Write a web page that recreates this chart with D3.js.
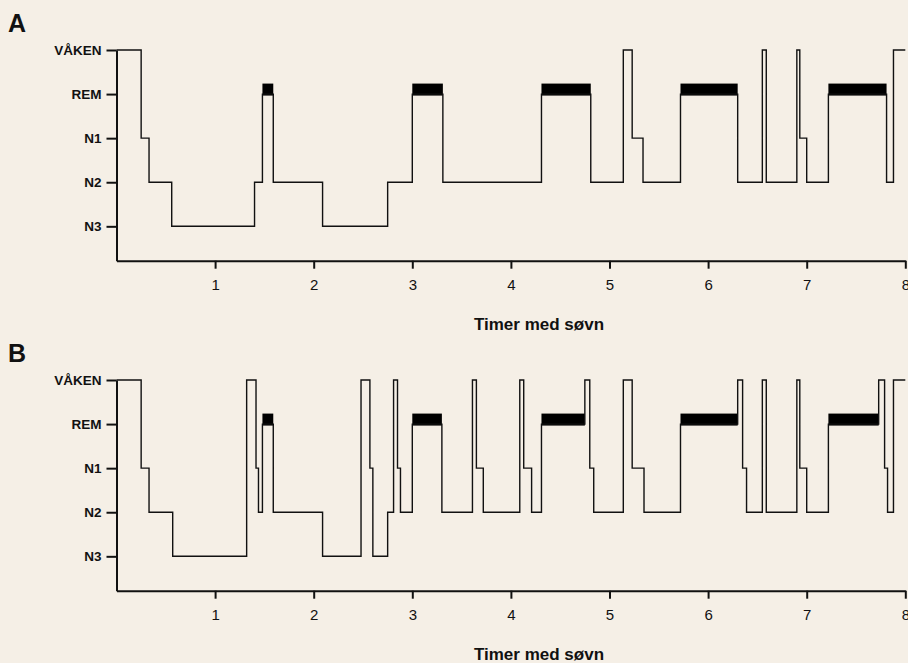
<!DOCTYPE html>
<html>
<head>
<meta charset="utf-8">
<script src="https://cdn.jsdelivr.net/npm/d3@7"></script>
<style>
  body { margin: 0; background: #f5efe6; }
  svg { display: block; background: #f5efe6; }
  text { font-family: "Liberation Sans", Arial, Helvetica, sans-serif; fill: #111; }
  .axis path, .axis line { stroke: #111; stroke-width: 2px; }
  .yaxis text { font-size: 13.5px; font-weight: bold; }
  .xaxis text { font-size: 15px; }
  .hypno { fill: none; stroke: #111; stroke-width: 1.4px; }
</style>
</head>
<body>
<script>
//sleep stages, top to bottom
var stageLabels = ["VÅKEN", "REM", "N1", "N2", "N3"];
var hourTicks = [1, 2, 3, 4, 5, 6, 7, 8];

//panel A: hour at which each stage starts (last entry closes the night)
var timesA = [0, 0.25, 0.33, 0.56, 1.40, 1.48, 1.59, 2.09, 2.75, 3.00, 3.31, 4.31, 4.81,
              5.14, 5.23, 5.34, 5.72, 6.30, 6.55, 6.59, 6.90, 6.93, 7.00, 7.22, 7.81, 7.88, 8.00];
var stagesA = ["VÅKEN", "N1", "N2", "N3", "N2", "REM", "N2", "N3", "N2", "REM", "N2", "REM", "N2",
               "VÅKEN", "N1", "N2", "REM", "N2", "VÅKEN", "N2", "VÅKEN", "N1", "N2", "REM", "N2", "VÅKEN", "VÅKEN"];

//panel B
var timesB = [0, 0.25, 0.33, 0.57, 1.32, 1.415, 1.44, 1.48, 1.59, 2.09, 2.48, 2.57, 2.60, 2.75,
              2.81, 2.85, 2.88, 3.00, 3.30, 3.61, 3.65, 3.72, 4.09, 4.13, 4.21, 4.31, 4.75, 4.80,
              4.84, 5.14, 5.23, 5.35, 5.72, 6.30, 6.35, 6.39, 6.55, 6.59, 6.90, 6.93, 7.00, 7.22,
              7.73, 7.79, 7.82, 7.88, 8.00];
var stagesB = ["VÅKEN", "N1", "N2", "N3", "VÅKEN", "N1", "N2", "REM", "N2", "N3", "VÅKEN", "N1", "N3", "N2",
               "VÅKEN", "N1", "N2", "REM", "N2", "VÅKEN", "N1", "N2", "VÅKEN", "N1", "N2", "REM", "VÅKEN", "N1",
               "N2", "VÅKEN", "N1", "N2", "REM", "VÅKEN", "N1", "N2", "VÅKEN", "N2", "VÅKEN", "N1", "N2", "REM",
               "VÅKEN", "N1", "N2", "VÅKEN", "VÅKEN"];

var width = 908, height = 663;

var svg = d3.select("body").append("svg")
    .attr("width", width)
    .attr("height", height);

//shared scales
var x = d3.scaleLinear().domain([0, 8]).range([116.5, 905.3]);
var stageValue = function(s){ return 4 - stageLabels.indexOf(s); };
var y = d3.scaleLinear().domain([-0.78, 4]).range([260.7, 50]);

drawPanel(0, "A", timesA, stagesA);
drawPanel(330, "B", timesB, stagesB);

function drawPanel(offset, letter, times, stages){
  var g = svg.append("g").attr("transform", "translate(0," + offset + ")");

  var data = times.map(function(t, i){ return {t: t, s: stages[i]}; });

  //REM bars on top of REM segments
  var remSegs = data.slice(0, -1).map(function(d, i){
      return {t0: d.t, t1: data[i + 1].t, s: d.s};
    }).filter(function(d){ return d.s == "REM"; });

  g.selectAll(".rem")
    .data(remSegs)
    .enter()
    .append("rect")
    .attr("class", "rem")
    .attr("x", function(d){ return x(d.t0); })
    .attr("width", function(d){ return x(d.t1) - x(d.t0); })
    .attr("y", y(stageValue("REM")) - 10.5)
    .attr("height", 12)
    .attr("fill", "#000");

  var line = d3.line()
    .curve(d3.curveStepAfter)
    .x(function(d){ return x(d.t); })
    .y(function(d){ return y(stageValue(d.s)); });

  g.append("path")
    .datum(data)
    .attr("class", "hypno")
    .attr("d", line);

  //axes
  g.append("g")
    .attr("class", "axis yaxis")
    .attr("transform", "translate(" + x(0) + ",0)")
    .call(d3.axisLeft(y)
      .tickValues([4, 3, 2, 1, 0])
      .tickFormat(function(v){ return stageLabels[4 - v]; })
      .tickSize(10)
      .tickSizeOuter(0)
      .tickPadding(5));

  g.append("g")
    .attr("class", "axis xaxis")
    .attr("transform", "translate(0," + y(-0.78) + ")")
    .call(d3.axisBottom(x)
      .tickValues(hourTicks)
      .tickFormat(d3.format("d"))
      .tickSize(8)
      .tickSizeOuter(0)
      .tickPadding(11));

  g.selectAll(".axis text").attr("fill", "#111");

  g.append("text")
    .attr("x", 539)
    .attr("y", 330)
    .attr("text-anchor", "middle")
    .style("font-size", "17px")
    .style("font-weight", "bold")
    .text("Timer med søvn");

  g.append("text")
    .attr("x", 8)
    .attr("y", 32)
    .style("font-size", "25px")
    .style("font-weight", "bold")
    .text(letter);
}
</script>
</body>
</html>
